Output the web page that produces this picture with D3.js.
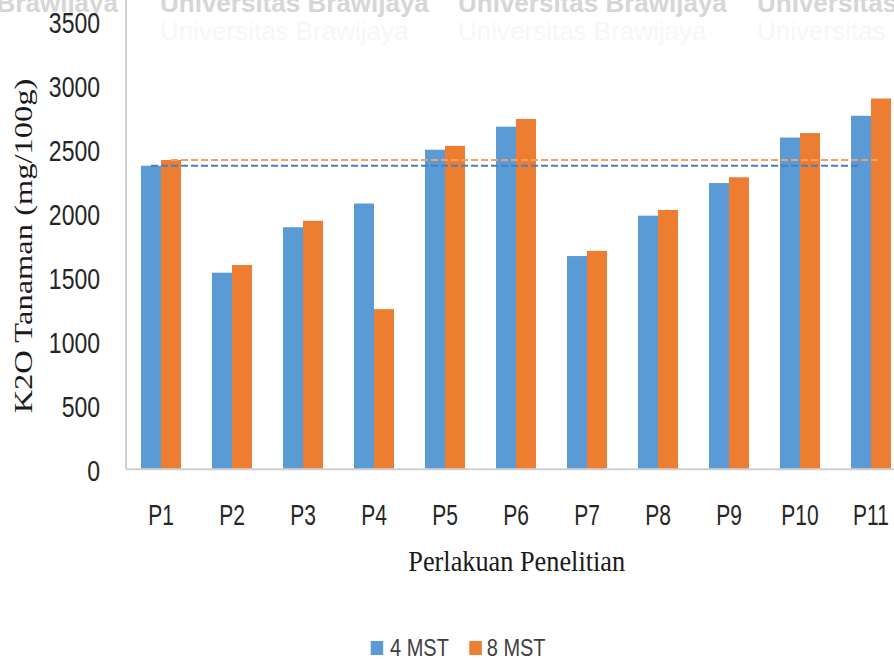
<!DOCTYPE html>
<html>
<head>
<meta charset="utf-8">
<script src="https://cdn.jsdelivr.net/npm/d3@7/dist/d3.min.js"></script>
<style>
  html, body { margin: 0; padding: 0; background: #ffffff; }
  svg { display: block; }
</style>
</head>
<body>
<svg id="chart" width="894" height="659"></svg>
<script>
// K2O content of plant tissue per treatment, at 4 and 8 weeks after planting
const categories = ["P1", "P2", "P3", "P4", "P5", "P6", "P7", "P8", "P9", "P10", "P11"];
const seriesNames = ["4 MST", "8 MST"];
const values4MST = [2370, 1535, 1890, 2075, 2495, 2675, 1665, 1980, 2235, 2590, 2760];
const values8MST = [2415, 1595, 1940, 1250, 2525, 2735, 1705, 2025, 2280, 2625, 2895];
const yTicks = [0, 500, 1000, 1500, 2000, 2500, 3000, 3500];
const watermarkWords = ["Brawijaya", "Universitas Brawijaya", "Universitas Brawijaya", "Universitas Brawijaya"];

const colors = { "4 MST": "#5b9bd5", "8 MST": "#ed7d31" };
const refColors = { "4 MST": "#4a7dc2", "8 MST": "#f5a060" };

const data = categories.map((c, i) => ({ cat: c, "4 MST": values4MST[i], "8 MST": values8MST[i] }));

const svg = d3.select("#chart");

// watermark strip along the top edge
const wm = svg.append("g").attr("font-family", "Liberation Sans, Arial, sans-serif")
  .attr("font-weight", "bold").attr("font-size", 26);
const wmX = [118, 160, 458, 757];
watermarkWords.forEach((w, i) => {
  wm.append("text").attr("x", wmX[i]).attr("y", 12)
    .attr("text-anchor", i === 0 ? "end" : "start")
    .attr("fill", "#d6d6d6").text(w);
});
watermarkWords.slice(1).forEach((w, i) => {
  wm.append("text").attr("x", wmX[i + 1]).attr("y", 40)
    .attr("fill", "#f7f7f7").attr("font-weight", "normal").text(w);
});

// scales
const plotLeft = 125.5, step = 71;
const x0 = d3.scaleBand().domain(categories)
  .range([plotLeft, plotLeft + step * categories.length])
  .paddingInner(31 / 71).paddingOuter(31 / 142);
const x1 = d3.scaleBand().domain(seriesNames).range([0, x0.bandwidth()]).padding(0);
const y = d3.scaleLinear().domain([0, 3500]).range([469.3, 21]);

// bars
const groups = svg.append("g").selectAll("g").data(data).join("g")
  .attr("transform", d => `translate(${x0(d.cat)},0)`);
groups.selectAll("rect").data(d => seriesNames.map(s => ({ s, v: d[s] }))).join("rect")
  .attr("x", d => x1(d.s))
  .attr("width", x1.bandwidth())
  .attr("y", d => y(d.v))
  .attr("height", d => y(0) - y(d.v))
  .attr("fill", d => colors[d.s]);

// dashed reference lines at the P1 level of each series
seriesNames.forEach(s => {
  const first = categories[0], last = categories[categories.length - 1];
  const v = data[0][s];
  svg.append("line")
    .attr("x1", x0(first) + x1(s) + x1.bandwidth() / 2)
    .attr("x2", x0(last) + x1(s) + x1.bandwidth() / 2)
    .attr("y1", y(v)).attr("y2", y(v))
    .attr("stroke", refColors[s]).attr("stroke-width", 2)
    .attr("stroke-dasharray", "7,3");
});

// axes lines
svg.append("line").attr("x1", 126).attr("x2", 126).attr("y1", 0).attr("y2", y(0))
  .attr("stroke", "#bfbfbf").attr("stroke-width", 1.5);
svg.append("line").attr("x1", 126).attr("x2", 894).attr("y1", y(0)).attr("y2", y(0))
  .attr("stroke", "#d0d0d0").attr("stroke-width", 2);

// y tick labels
const yAxis = svg.append("g").attr("font-family", "Liberation Sans, Arial, sans-serif")
  .attr("font-size", 23).attr("fill", "#262626");
yTicks.forEach(t => {
  yAxis.append("text")
    .attr("transform", `translate(100,${y(t) + 2}) scale(1,1.3)`)
    .attr("text-anchor", "end").attr("dominant-baseline", "central")
    .text(d3.format("d")(t));
});

// x tick labels
const xAxis = svg.append("g").attr("font-family", "Liberation Sans, Arial, sans-serif")
  .attr("font-size", 21).attr("fill", "#262626");
categories.forEach(c => {
  xAxis.append("text")
    .attr("transform", `translate(${x0(c) + x0.bandwidth() / 2},514.5) scale(1,1.38)`)
    .attr("text-anchor", "middle").attr("dominant-baseline", "central")
    .text(c);
});

// axis titles
svg.append("text")
  .attr("transform", "translate(516.7,570.7) scale(1,1.15)")
  .attr("text-anchor", "middle")
  .attr("font-family", "Liberation Serif, Times New Roman, serif")
  .attr("font-size", 26.3).attr("fill", "#1a1a1a")
  .text("Perlakuan Penelitian");

svg.append("text")
  .attr("transform", "translate(31.7,246) rotate(-90) scale(1.29,1)")
  .attr("text-anchor", "middle")
  .attr("font-family", "Liberation Serif, Times New Roman, serif")
  .attr("font-size", 25.2).attr("fill", "#1a1a1a")
  .text("K2O Tanaman (mg/100g)");

// legend
const legendItems = [
  { s: "4 MST", boxX: 370.7, textX: 390 },
  { s: "8 MST", boxX: 469.3, textX: 486.7 }
];
const legend = svg.append("g");
legendItems.forEach(item => {
  legend.append("rect").attr("x", item.boxX).attr("y", 641).attr("width", 12.5).attr("height", 14)
    .attr("fill", colors[item.s]);
  legend.append("text")
    .attr("transform", `translate(${item.textX},648) scale(1,1.15)`)
    .attr("dominant-baseline", "central")
    .attr("font-family", "Liberation Sans, Arial, sans-serif")
    .attr("font-size", 20).attr("fill", "#404040")
    .text(item.s);
});
</script>
</body>
</html>
